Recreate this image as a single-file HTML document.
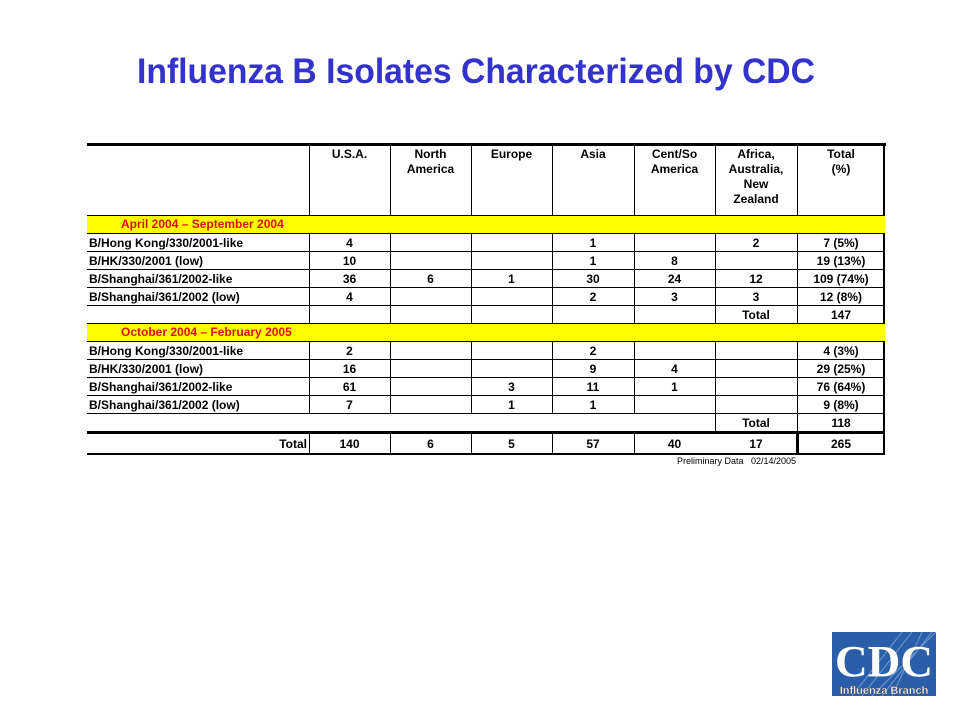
<!DOCTYPE html>
<html><head><meta charset="utf-8">
<style>
body{margin:0;width:960px;height:720px;background:#fff;position:relative;overflow:hidden;font-family:"Liberation Sans",Arial,sans-serif}
.ab{position:absolute}
.t{position:absolute;font-weight:bold;font-size:12px;color:#000;line-height:18px;white-space:nowrap}
.hl{position:absolute;background:#000;height:1px}
.vl{position:absolute;background:#000;width:1px}
</style></head><body>
<svg class="ab" style="left:0;top:40px" width="960" height="60">
<text x="137" y="43" textLength="678" lengthAdjust="spacingAndGlyphs" font-family="Liberation Sans, sans-serif" font-weight="bold" font-size="35" fill="#3333cc">Influenza B Isolates Characterized by CDC</text>
</svg>
<div id="tbl" class="ab" style="left:0;top:0;width:960px;height:720px"></div>
<div class="t" style="left:677px;top:452px;font-weight:normal;font-size:9px">Preliminary Data&nbsp;&nbsp;&nbsp;02/14/2005</div>
<div class="ab" style="left:832px;top:632px;width:104px;height:64px;background:#2a5ea8;overflow:hidden">
<svg width="104" height="64" class="ab" style="left:0;top:0">
<g stroke="#8fb3e0" stroke-width="1" opacity="0.7"><line x1="40" y1="64" x2="104" y2="0"/><line x1="50" y1="64" x2="100" y2="0"/><line x1="60" y1="64" x2="90" y2="0"/><line x1="30" y1="64" x2="80" y2="0"/><line x1="20" y1="64" x2="70" y2="0"/></g>
<text x="52" y="44" text-anchor="middle" font-family="Liberation Serif, serif" font-weight="bold" font-size="44" fill="#fff" textLength="98" lengthAdjust="spacingAndGlyphs">CDC</text>
<text x="52" y="62" text-anchor="middle" font-family="Liberation Sans, sans-serif" font-weight="bold" font-size="11" fill="#fff" stroke="#555" stroke-width="0.4">Influenza Branch</text>
</svg></div>
<script>
const columns=["U.S.A.","North<br>America","Europe","Asia","Cent/So<br>America","Africa,<br>Australia,<br>New<br>Zealand","Total<br>(%)"];
const periods=["April 2004 \u2013 September 2004","October 2004 \u2013 February 2005"];
const strains=["B/Hong Kong/330/2001-like","B/HK/330/2001 (low)","B/Shanghai/361/2002-like","B/Shanghai/361/2002 (low)"];
const period1=[["4","","","1","","2","7 (5%)"],["10","","","1","8","","19 (13%)"],["36","6","1","30","24","12","109 (74%)"],["4","","","2","3","3","12 (8%)"]];
const period2=[["2","","","2","","","4 (3%)"],["16","","","9","4","","29 (25%)"],["61","","3","11","1","","76 (64%)"],["7","","1","1","","","9 (8%)"]];
const periodTotals=["147","118"];
const grandTotals=["140","6","5","57","40","17","265"];
const xs=[87,309,390,471,552,634,715,797,885];
const T=document.getElementById('tbl');
function add(cls,st,html){const d=document.createElement('div');d.className=cls;d.setAttribute('style',st);if(html!==undefined)d.innerHTML=html;T.appendChild(d);return d;}
function cell(c,y,txt,name){const d=add('t',`left:${xs[c]}px;top:${y}px;width:${xs[c+1]-xs[c]}px;text-align:center`,txt);

}
columns.forEach((h,i)=>{const d=add('t',`left:${xs[i+1]}px;top:147px;width:${xs[i+2]-xs[i+1]}px;text-align:center;line-height:15px;font-size:12px`,h);

});
add('hl','left:87px;top:143px;width:799px;height:3px');
for(let i=1;i<xs.length;i++){
 if(i==8){add('vl','left:883px;top:144px;height:311px;width:2px');}
 else if(i>=6){add('vl',`left:${xs[i]}px;top:144px;height:287px`);}
 else{add('vl',`left:${xs[i]}px;top:144px;height:269px`);add('vl',`left:${xs[i]}px;top:431px;height:24px`);}
}
add('vl','left:796px;top:431px;height:24px;width:3px');
let y=215;
[period1,period2].forEach((P,p)=>{
 const yb=add('ab',`left:87px;top:${y}px;width:798px;height:18px;background:#ffff00`);
 
 
 add('hl',`left:87px;top:${y}px;width:798px`);
 const pl=add('t',`left:121px;top:${y}px;color:#dd1111;line-height:18px`,periods[p]);
 
 
 y+=18;
 P.forEach((row,r)=>{
  add('hl',`left:87px;top:${y}px;width:798px`);
  const l=add('t',`left:89px;top:${y+1}px`,strains[r]);
  
  
  row.forEach((v,c)=>cell(c+1,y+1,v,'value-cell'));
  y+=18;
 });
 add('hl',`left:87px;top:${y}px;width:798px`);
 cell(6,y+1,'Total','subtotal-label');
 cell(7,y+1,periodTotals[p],'subtotal-value');
 y+=18;
});
add('hl',`left:87px;top:${y}px;width:798px;height:3px`);
const gl=add('t',`left:87px;top:${y+4}px;width:220px;text-align:right`,'Total');


grandTotals.forEach((v,c)=>cell(c+1,y+4,v,'grand-total-value'));
add('hl',`left:87px;top:${y+22}px;width:798px;height:2px`);
</script>
</body></html>
